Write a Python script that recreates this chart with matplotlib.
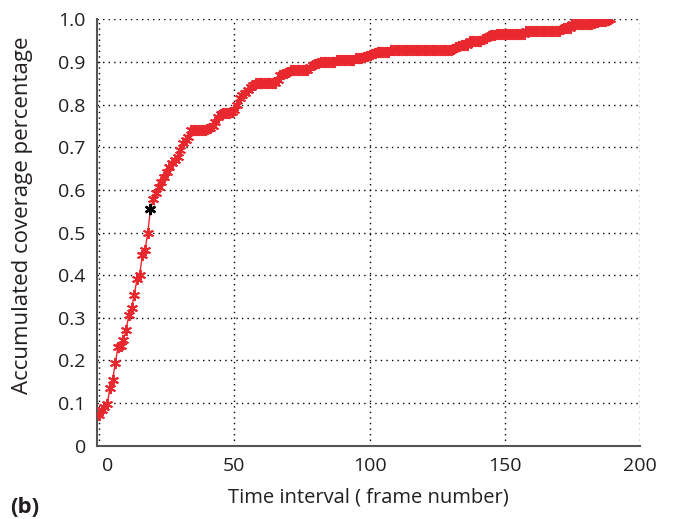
import matplotlib
matplotlib.use('Agg')
import matplotlib.pyplot as plt
import matplotlib.transforms as mtransforms
import numpy as np

plt.rcParams['font.family'] = ['Open Sans', 'DejaVu Sans']

# accumulated coverage, one value per frame (frames 0..189)
coverage = [
    0.073, 0.085, 0.092, 0.097, 0.136, 0.155, 0.194, 0.232, 0.234, 0.248,
    0.272, 0.307, 0.323, 0.354, 0.390, 0.400, 0.447, 0.459, 0.499, 0.555,
    0.578, 0.592, 0.607, 0.619, 0.630, 0.642, 0.654, 0.662, 0.670, 0.677,
    0.693, 0.710, 0.717, 0.724, 0.740, 0.740, 0.740, 0.740, 0.740, 0.740,
    0.742, 0.745, 0.750, 0.760, 0.770, 0.777, 0.779, 0.780, 0.780, 0.783,
    0.787, 0.800, 0.815, 0.822, 0.828, 0.834, 0.840, 0.845, 0.850, 0.850,
    0.850, 0.850, 0.850, 0.850, 0.850, 0.850, 0.857, 0.869, 0.872, 0.874,
    0.877, 0.880, 0.880, 0.880, 0.880, 0.880, 0.880, 0.880, 0.888, 0.892,
    0.895, 0.897, 0.899, 0.899, 0.899, 0.899, 0.899, 0.899, 0.904, 0.904,
    0.904, 0.904, 0.904, 0.904, 0.904, 0.908, 0.909, 0.910, 0.911, 0.914,
    0.916, 0.918, 0.920, 0.922, 0.922, 0.922, 0.922, 0.922, 0.927, 0.927,
    0.927, 0.927, 0.927, 0.927, 0.927, 0.927, 0.927, 0.927, 0.927, 0.927,
    0.927, 0.927, 0.927, 0.927, 0.927, 0.927, 0.927, 0.927, 0.927, 0.927,
    0.927, 0.931, 0.935, 0.937, 0.939, 0.939, 0.939, 0.949, 0.949, 0.949,
    0.949, 0.949, 0.953, 0.957, 0.960, 0.962, 0.964, 0.965, 0.966, 0.966,
    0.966, 0.966, 0.966, 0.966, 0.966, 0.966, 0.966, 0.966, 0.972, 0.972,
    0.972, 0.972, 0.972, 0.972, 0.972, 0.972, 0.972, 0.972, 0.972, 0.972,
    0.972, 0.978, 0.980, 0.980, 0.980, 0.988, 0.988, 0.988, 0.988, 0.988,
    0.988, 0.988, 0.988, 0.991, 0.993, 0.995, 0.995, 0.995, 0.998, 1.000,
]
frames = list(range(len(coverage)))
highlight_frame = 19

xticks = [0, 50, 100, 150, 200]
yticks = [0, 0.1, 0.2, 0.3, 0.4, 0.5, 0.6, 0.7, 0.8, 0.9, 1.0]
ytick_labels = ['0', '0.1', '0.2', '0.3', '0.4', '0.5', '0.6', '0.7', '0.8', '0.9', '1.0']

red = '#e8282e'
ink = '#231f20'
asterisk = (6, 2, 0)

fig = plt.figure(figsize=(6.73, 5.19), dpi=100)
ax = fig.add_axes([0.144, 0.141, 0.807, 0.822])

ax.plot(frames, coverage, '-', color=red, linewidth=1.0, marker=asterisk,
        markersize=8, markeredgewidth=1.4, zorder=3)
ax.plot([frames[highlight_frame]], [coverage[highlight_frame]], linestyle='none',
        marker=asterisk, color='black', markersize=8, markeredgewidth=1.8, zorder=4)

ax.set_xlim(-0.8, 200)
ax.set_ylim(0, 1.0)
ax.set_xticks(xticks)
ax.set_yticks(yticks)
ax.set_yticklabels(ytick_labels)
ax.tick_params(length=0, labelsize=14, pad=8, colors=ink)

# the "0" on the x axis sits a little right of its gridline in the original
shift = mtransforms.ScaledTranslation(9 / 100, 0, fig.dpi_scale_trans)
lbl0 = ax.get_xticklabels()[0]
lbl0.set_transform(lbl0.get_transform() + shift)

ax.grid(True, linestyle=(0, (1, 3)), color='black', linewidth=1.0)
for side in ['top', 'right']:
    ax.spines[side].set_visible(False)
for side in ['left', 'bottom']:
    ax.spines[side].set_color('#555555')
    ax.spines[side].set_linewidth(1.5)

ax.set_xlabel('Time interval ( frame number)', fontsize=14.5, color=ink, labelpad=9)
ax.set_ylabel('Accumulated coverage percentage', fontsize=16, color=ink)
ax.yaxis.set_label_coords(-0.117, 0.54)
fig.text(0.015, 0.012, '(b)', fontsize=16, fontweight='bold', color=ink)

plt.savefig('out.png', dpi=100)
print("Saved: out.png")
